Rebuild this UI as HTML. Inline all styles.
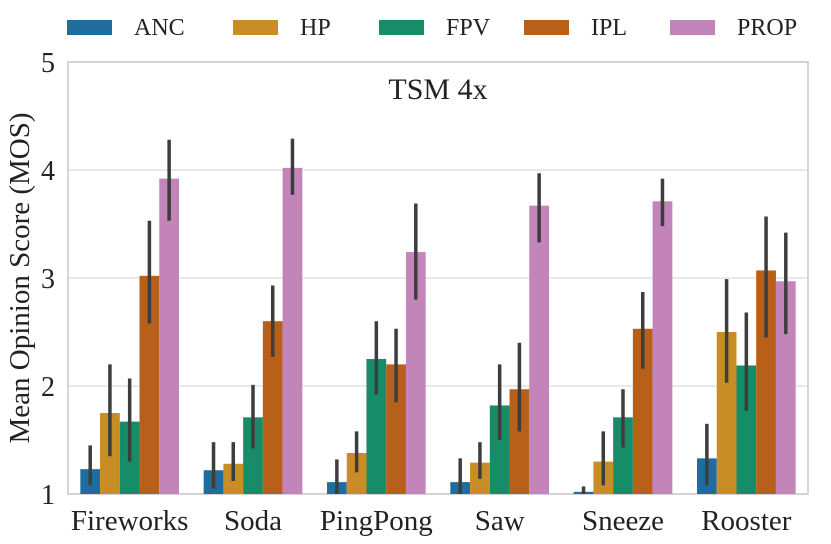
<!DOCTYPE html>
<html><head><meta charset="utf-8"><style>
html,body{margin:0;padding:0;background:#fff;}
svg{display:block;font-family:"Liberation Serif","DejaVu Serif",serif;}
svg text{font-family:"Liberation Serif","DejaVu Serif",serif;}
</style></head><body>
<svg id="chart" width="831" height="544"></svg>
<script>
const categories=["Fireworks","Soda","PingPong","Saw","Sneeze","Rooster"];
const seriesNames=["ANC","HP","FPV","IPL","PROP"];
const seriesColors=["#1f6d9f","#c98d26","#168d68","#b85f1a","#c385b9"];
const valsANC=[1.23,1.22,1.11,1.11,1.02,1.33];
const valsHP=[1.75,1.28,1.38,1.29,1.30,2.50];
const valsFPV=[1.67,1.71,2.25,1.82,1.71,2.19];
const valsIPL=[3.02,2.60,2.20,1.97,2.53,3.07];
const valsPROP=[3.92,4.02,3.24,3.67,3.71,2.97];
const loANC=[1.08,1.05,1.00,1.00,1.00,1.08];
const hiANC=[1.45,1.48,1.32,1.33,1.07,1.65];
const loHP=[1.35,1.12,1.20,1.14,1.08,2.03];
const hiHP=[2.20,1.48,1.58,1.48,1.58,2.99];
const loFPV=[1.30,1.42,1.92,1.50,1.43,1.77];
const hiFPV=[2.07,2.01,2.60,2.20,1.97,2.68];
const loIPL=[2.58,2.27,1.85,1.58,2.16,2.45];
const hiIPL=[3.53,2.93,2.53,2.40,2.87,3.57];
const loPROP=[3.53,3.77,2.80,3.33,3.48,2.48];
const hiPROP=[4.28,4.29,3.69,3.97,3.92,3.42];
const yTicks=[1,2,3,4,5];
const values=[valsANC,valsHP,valsFPV,valsIPL,valsPROP];
const los=[loANC,loHP,loFPV,loIPL,loPROP];
const his=[hiANC,hiHP,hiFPV,hiIPL,hiPROP];

const NS="http://www.w3.org/2000/svg";
const svg=document.getElementById("chart");
const L=68,R=808,T=62,B=494,yMin=1,yMax=5;
const y=v=>B-(v-yMin)/(yMax-yMin)*(B-T);
const gw=(R-L)/categories.length;
const bw=gw*0.8/seriesNames.length;
const x=(g,s)=>L+g*gw+gw*0.1+s*bw;
function mk(tag,attrs,parent){const e=document.createElementNS(NS,tag);for(const k in attrs)e.setAttribute(k,attrs[k]);(parent||svg).appendChild(e);return e;}

yTicks.forEach(t=>{
  const gl=mk("line",{x1:L,x2:R,y1:y(t),y2:y(t),stroke:"#dcdcdc","stroke-width":1.2});
  
  
  const tl=mk("text",{x:L-13,y:y(t)+10,"text-anchor":"end","font-size":28,fill:"#222"});
  tl.textContent=t;
  
  
});
const frame=mk("rect",{x:L,y:T,width:R-L,height:B-T,fill:"none",stroke:"#c8c8c8","stroke-width":1.5});



categories.forEach((c,g)=>{
  values.forEach((arr,s)=>{
    const v=arr[g];
    const r=mk("rect",{x:x(g,s),y:y(v),width:bw,height:B-y(v),fill:seriesColors[s]});
    
    
  });
  values.forEach((arr,s)=>{
    const cx=x(g,s)+bw/2;
    const e=mk("line",{x1:cx,x2:cx,y1:y(los[s][g]),y2:y(his[s][g]),stroke:"#3d3d3d","stroke-width":3.5});
    
    
  });
  const xl=mk("text",{x:L+g*gw+gw/2,y:530,"text-anchor":"middle","font-size":29,fill:"#222"});
  xl.textContent=c;
  
  
});

const title=mk("text",{x:438,y:99,"text-anchor":"middle","font-size":30,fill:"#222"});
title.textContent="TSM 4x";



const yt=mk("text",{x:0,y:0,"text-anchor":"middle","font-size":29,fill:"#222",transform:"translate(29,278) rotate(-90)"});
yt.textContent="Mean Opinion Score (MOS)";



const legX=[67,233,379,524,670];
seriesNames.forEach((n,s)=>{
  const p=mk("rect",{x:legX[s],y:20,width:45,height:15,fill:seriesColors[s]});
  
  
  const t=mk("text",{x:legX[s]+67,y:35,"font-size":24,fill:"#222"});
  t.textContent=n;
  
  
});
</script>
</body></html>
